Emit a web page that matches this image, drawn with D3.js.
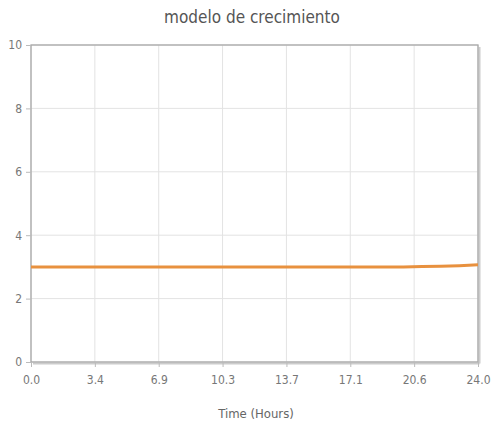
<!DOCTYPE html>
<html><head><meta charset="utf-8">
<script src="https://cdn.jsdelivr.net/npm/d3@7"></script>
<style>body{margin:0;background:#fff;} text{font-family:"DejaVu Sans Condensed","Liberation Sans Narrow",sans-serif;}</style>
</head><body>
<svg id="c" width="491" height="426"></svg>
<script>
const title = "modelo de crecimiento";
const xLabel = "Time (Hours)";
const xTicks = [0.0, 3.4, 6.9, 10.3, 13.7, 17.1, 20.6, 24.0];
const yTicks = [0, 2, 4, 6, 8, 10];
const times = [0, 2, 4, 6, 8, 10, 12, 14, 16, 18, 20, 21, 22, 23, 24];
const values = [3.0, 3.0, 3.0, 3.0, 3.0, 3.0, 3.0, 3.0, 3.0, 3.0, 3.0, 3.01, 3.02, 3.04, 3.07];

const svg = d3.select("#c");
const m = {l:31, r:13, t:45, b:64};
const W = 491, H = 426;
const x = d3.scaleLinear().domain([0, 24]).range([m.l, W - m.r]);
const y = d3.scaleLinear().domain([0, 10]).range([H - m.b, m.t]);
const xPos = xTicks.map((d,i)=>24*i/7);

// grid
svg.append("g").selectAll("line").data(xPos).join("line")
  .attr("x1", d=>x(d)).attr("x2", d=>x(d)).attr("y1", y(10)).attr("y2", y(0))
  .attr("stroke", "#e3e3e3").attr("stroke-width", 1);
svg.append("g").selectAll("line").data(yTicks).join("line")
  .attr("x1", x(0)).attr("x2", x(24)).attr("y1", d=>y(d)).attr("y2", d=>y(d))
  .attr("stroke", "#e3e3e3").attr("stroke-width", 1);

// frame shadow
svg.append("line").attr("x1", x(24)+1.5).attr("x2", x(24)+1.5).attr("y1", y(10)+2).attr("y2", y(0)+1.5)
  .attr("stroke", "#ccc").attr("stroke-width", 2);
svg.append("line").attr("x1", x(0)+2).attr("x2", x(24)+1.5).attr("y1", y(0)+1.5).attr("y2", y(0)+1.5)
  .attr("stroke", "#ccc").attr("stroke-width", 2);
svg.append("rect").attr("x", x(0)).attr("y", y(10)).attr("width", x(24)-x(0)).attr("height", y(0)-y(10))
  .attr("fill", "none").attr("stroke", "#a8a8a8").attr("stroke-width", 1.3);

// axes
const xAxis = d3.axisBottom(x).tickValues(xPos).tickFormat((d,i)=>xTicks[i].toFixed(1)).tickSize(5).tickPadding(8);
const gx = svg.append("g").attr("transform", `translate(0,${y(0)})`).call(xAxis);
const yAxis = d3.axisLeft(y).tickValues(yTicks).tickSize(5).tickPadding(4);
const gy = svg.append("g").attr("transform", `translate(${x(0)},0)`).call(yAxis);
[gx, gy].forEach(g => {
  g.select(".domain").remove();
  g.selectAll(".tick line").attr("stroke", "#bbb");
  g.selectAll(".tick text").attr("fill", "#777").attr("font-size", 12)
   .style("font-family", '"DejaVu Sans Condensed","Liberation Sans Narrow",sans-serif');
});
gy.selectAll(".tick text").attr("dy", "0.32em");

// line
svg.append("path").datum(times.map((t,i)=>[t, values[i]]))
  .attr("d", d3.line().x(d=>x(d[0])).y(d=>y(d[1])))
  .attr("fill", "none").attr("stroke", "#e8913f").attr("stroke-width", 3);

// title and label
svg.append("text").attr("x", 252).attr("y", 23).attr("text-anchor", "middle")
  .attr("font-size", 17).attr("fill", "#555").text(title);
svg.append("text").attr("x", 256).attr("y", 418).attr("text-anchor", "middle")
  .attr("font-size", 13).attr("fill", "#666").text(xLabel);
</script>
</body></html>
